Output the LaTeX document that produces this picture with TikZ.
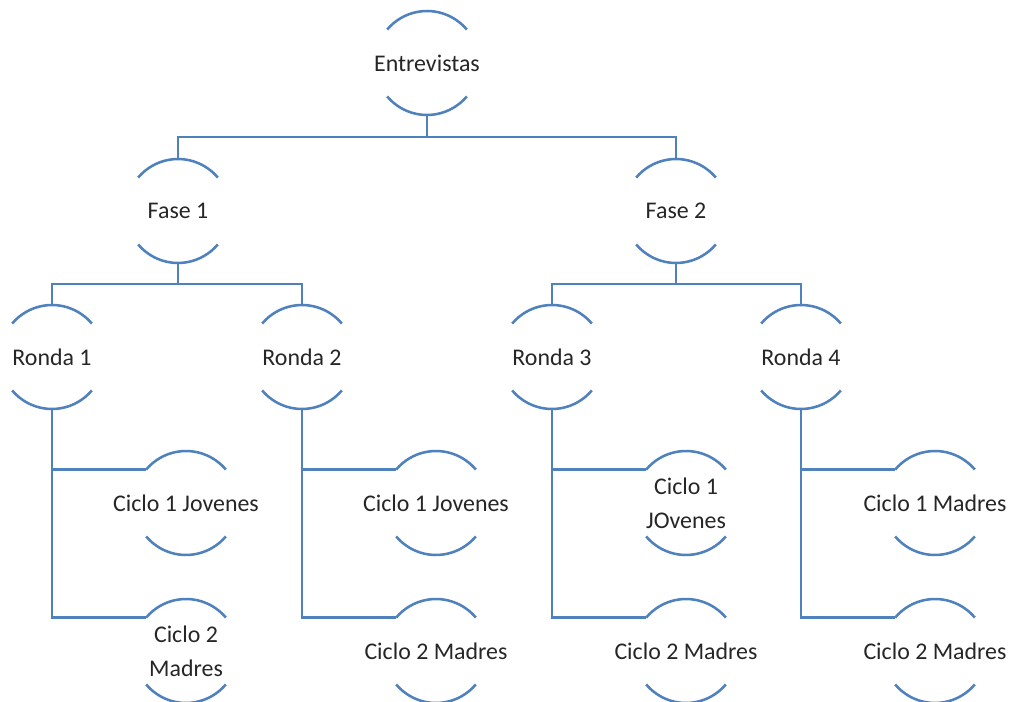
\documentclass[tikz,border=0pt]{standalone}
\usepackage{fontspec}
\setmainfont{Carlito}
\definecolor{ringblue}{RGB}{79,129,189}
\definecolor{labelgray}{RGB}{38,38,38}

\tikzset{
  ring/.style={circle, minimum size=2.08cm, inner sep=0pt, outer sep=0pt},
  ringtext/.style={text=labelgray, align=center, inner sep=0pt,
    font=\fontsize{13.6}{19.3}\selectfont},
  link/.style={draw=ringblue, line width=1.45pt},
}

\begin{document}
\begin{tikzpicture}[x=0.02cm, y=-0.02cm]
  \useasboundingbox (0,0) rectangle (1011,702);

  % Wurzel und Phasen
  \node[ring, label={[ringtext]center:Entrevistas}] (ent) at (427, 63) {};
  \node[ring, label={[ringtext]center:Fase 1}] (f1) at (178,211) {};
  \node[ring, label={[ringtext]center:Fase 2}] (f2) at (676,211) {};

  % Runden
  \node[ring, label={[ringtext]center:Ronda 1}] (r1) at ( 52,357) {};
  \node[ring, label={[ringtext]center:Ronda 2}] (r2) at (302,357) {};
  \node[ring, label={[ringtext]center:Ronda 3}] (r3) at (552,357) {};
  \node[ring, label={[ringtext]center:Ronda 4}] (r4) at (801,357) {};

  % Zyklen
  \node[ring, label={[ringtext]center:Ciclo 1 Jovenes}] (c11) at (186,503) {};
  \node[ring, label={[ringtext]center:Ciclo 2\\Madres}] (c12) at (186,651) {};
  \node[ring, label={[ringtext]center:Ciclo 1 Jovenes}] (c21) at (436,503) {};
  \node[ring, label={[ringtext]center:Ciclo 2 Madres}] (c22) at (436,651) {};
  \node[ring, label={[ringtext]center:Ciclo 1\\JOvenes}] (c31) at (686,503) {};
  \node[ring, label={[ringtext]center:Ciclo 2 Madres}] (c32) at (686,651) {};
  \node[ring, label={[ringtext]center:Ciclo 1 Madres}] (c41) at (935,503) {};
  \node[ring, label={[ringtext]center:Ciclo 2 Madres}] (c42) at (935,651) {};

  % Bogen oben und unten
  \foreach \n in {ent,f1,f2,r1,r2,r3,r4,c11,c12,c21,c22,c31,c32,c41,c42}{
    \draw[link] (\n.40) arc[start angle=40, end angle=140, radius=1.04cm];
    \draw[link] (\n.220) arc[start angle=220, end angle=320, radius=1.04cm];
  }

  % Verbindungen
  \coordinate (b0) at (427,137);
  \coordinate (b1) at (178,284);
  \coordinate (b2) at (676,284);
  \draw[link] (ent.south) -- (b0);
  \draw[link] (f1.north) |- (b0) -| (f2.north);
  \draw[link] (f1.south) -- (b1);
  \draw[link] (r1.north) |- (b1) -| (r2.north);
  \draw[link] (f2.south) -- (b2);
  \draw[link] (r3.north) |- (b2) -| (r4.north);

  \draw[link] (r1.south) |- (c11.140);
  \draw[link] (r1.south) |- (c12.140);
  \draw[link] (r2.south) |- (c21.140);
  \draw[link] (r2.south) |- (c22.140);
  \draw[link] (r3.south) |- (c31.140);
  \draw[link] (r3.south) |- (c32.140);
  \draw[link] (r4.south) |- (c41.140);
  \draw[link] (r4.south) |- (c42.140);
\end{tikzpicture}
\end{document}
